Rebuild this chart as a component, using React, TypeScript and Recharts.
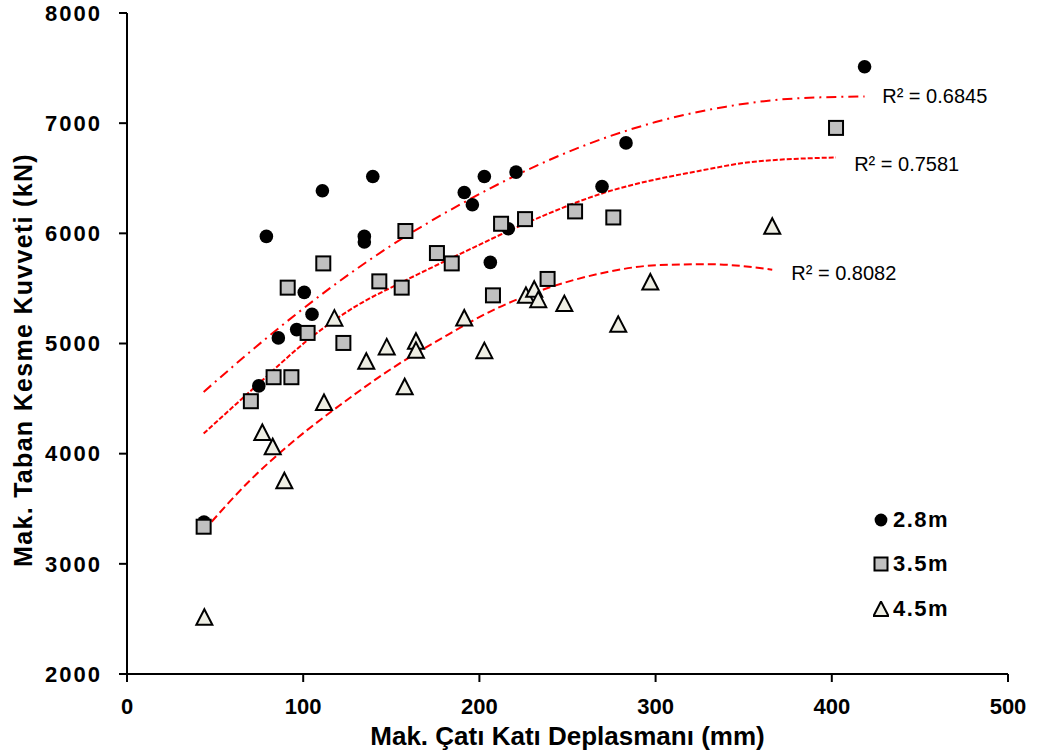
import React from 'react';
import { ComposedChart, Scatter, Line, XAxis, YAxis, ReferenceDot, Label } from 'recharts';

// axis ticks
const xTicks = [0, 100, 200, 300, 400, 500];
const yTicks = [2000, 3000, 4000, 5000, 6000, 7000, 8000];

// kat yuksekligi 2.8m
const h28 = [
  { x: 43.7, y: 3380 }, { x: 74.8, y: 4615 }, { x: 79.1, y: 5972 }, { x: 85.9, y: 5051 },
  { x: 96.3, y: 5126 }, { x: 100.6, y: 5464 }, { x: 105, y: 5265 }, { x: 110.9, y: 6386 },
  { x: 134.7, y: 5972 }, { x: 134.7, y: 5921 }, { x: 139.5, y: 6516 }, { x: 191.4, y: 6371 },
  { x: 196, y: 6259 }, { x: 202.8, y: 6516 }, { x: 206.2, y: 5736 }, { x: 216.4, y: 6042 },
  { x: 220.8, y: 6556 }, { x: 269.6, y: 6425 }, { x: 283.2, y: 6821 }, { x: 418.6, y: 7512 },
];

// 3.5m
const h35 = [
  { x: 43.5, y: 3337 }, { x: 70.3, y: 4476 }, { x: 83.2, y: 4694 }, { x: 93.3, y: 4694 },
  { x: 91.2, y: 5507 }, { x: 102.5, y: 5096 }, { x: 111.4, y: 5727 }, { x: 122.8, y: 5005 },
  { x: 143.2, y: 5564 }, { x: 155.9, y: 5507 }, { x: 158, y: 6021 }, { x: 175.9, y: 5821 },
  { x: 184.3, y: 5727 }, { x: 207.7, y: 5437 }, { x: 212.3, y: 6087 }, { x: 225.9, y: 6129 },
  { x: 238.7, y: 5586 }, { x: 254.3, y: 6199 }, { x: 276, y: 6144 }, { x: 402.4, y: 6957 },
];

// 4.5m
const h45 = [
  { x: 43.9, y: 2515 }, { x: 76.8, y: 4192 }, { x: 82.7, y: 4063 }, { x: 89.3, y: 3754 },
  { x: 111.8, y: 4464 }, { x: 117.7, y: 5230 }, { x: 135.8, y: 4839 }, { x: 147.4, y: 4969 },
  { x: 157.6, y: 4607 }, { x: 164, y: 5020 }, { x: 164, y: 4938 }, { x: 191.4, y: 5232 },
  { x: 202.8, y: 4935 }, { x: 226.4, y: 5437 }, { x: 231.1, y: 5492 }, { x: 233.4, y: 5398 },
  { x: 248.2, y: 5362 }, { x: 278.8, y: 5174 }, { x: 297, y: 5558 }, { x: 366.2, y: 6065 },
];

// 2. derece trend cizgileri
const trend28 = [
  { x: 43.5, y: 4560 }, { x: 80, y: 5060 }, { x: 115, y: 5500 }, { x: 150, y: 5890 },
  { x: 190, y: 6270 }, { x: 220, y: 6520 }, { x: 260, y: 6800 }, { x: 300, y: 7010 },
  { x: 340, y: 7150 }, { x: 380, y: 7225 }, { x: 418.6, y: 7242 },
];
const trend35 = [
  { x: 43.5, y: 4183 }, { x: 72.3, y: 4600 }, { x: 102.5, y: 5030 }, { x: 129, y: 5330 },
  { x: 156.5, y: 5560 }, { x: 190, y: 5820 }, { x: 225.7, y: 6087 }, { x: 269, y: 6359 },
  { x: 325.8, y: 6570 }, { x: 353.2, y: 6645 }, { x: 402.4, y: 6689 },
];
const trend45 = [
  { x: 43.5, y: 3300 }, { x: 70, y: 3760 }, { x: 95, y: 4120 }, { x: 120, y: 4430 },
  { x: 150, y: 4770 }, { x: 180, y: 5060 }, { x: 210, y: 5320 }, { x: 240, y: 5510 },
  { x: 270, y: 5640 }, { x: 300, y: 5710 }, { x: 330, y: 5720 }, { x: 366.2, y: 5670 },
];

const r2Labels = [
  { x: 428.6, y: 7247, text: 'R² = 0.6845' },
  { x: 412.7, y: 6625, text: 'R² = 0.7581' },
  { x: 377, y: 5641, text: 'R² = 0.8082' },
];

const FONT = '"Liberation Sans", Arial, sans-serif';

const CircleMark = (p: any) => <circle cx={p.cx} cy={p.cy} r={6.8} fill="#000" />;
const SquareMark = (p: any) => (
  <rect x={p.cx - 7} y={p.cy - 7} width={14} height={14} fill="#C0C0C0" stroke="#000" strokeWidth={2} />
);
const TriMark = (p: any) => (
  <polygon
    points={`${p.cx},${p.cy - 8} ${p.cx - 8},${p.cy + 7.5} ${p.cx + 8},${p.cy + 7.5}`}
    fill="#EEEEE4"
    stroke="#000"
    strokeWidth={2}
  />
);

const legendItems = [
  { name: '2.8m', top: 520, mark: <circle cx={8} cy={8} r={6.4} fill="#000" /> },
  { name: '3.5m', top: 564, mark: <rect x={1.5} y={1.5} width={13} height={13} fill="#C0C0C0" stroke="#000" strokeWidth={2} /> },
  { name: '4.5m', top: 609, mark: <polygon points="8,0.5 0.5,15 15.5,15" fill="#EEEEE4" stroke="#000" strokeWidth={2} /> },
];

export default function App() {
  return (
    <div style={{ position: 'absolute', left: 0, top: 0, width: 1043, height: 755, background: '#fff', fontFamily: FONT }}>
      <ComposedChart width={1043} height={755} margin={{ top: 13, right: 35, left: 0, bottom: 0 }}>
        <XAxis
          type="number"
          dataKey="x"
          domain={[0, 500]}
          ticks={xTicks}
          height={81}
          stroke="#000"
          strokeWidth={2}
          tickSize={8}
          tickMargin={16}
          tick={{ fontSize: 22, fontWeight: 'bold', fill: '#000', fontFamily: FONT }}
        >
          <Label
            value="Mak. Çatı Katı Deplasmanı (mm)"
            position="insideBottom"
            offset={10}
            style={{ fontSize: 26, fontWeight: 'bold', fill: '#000', fontFamily: FONT }}
          />
        </XAxis>
        <YAxis
          type="number"
          dataKey="y"
          domain={[2000, 8000]}
          ticks={yTicks}
          width={127}
          stroke="#000"
          strokeWidth={2}
          tickSize={8}
          tickMargin={17}
          tick={{ fontSize: 22, fontWeight: 'bold', fill: '#000', fontFamily: FONT, letterSpacing: 2 }}
        >
          <Label
            content={() => (
              <text
                x={23}
                y={360}
                transform="rotate(-90 23 360)"
                textAnchor="middle"
                dominantBaseline="central"
                style={{ fontSize: 25, fontWeight: 'bold', fill: '#000', fontFamily: FONT, letterSpacing: 1.3 }}
              >
                Mak. Taban Kesme Kuvveti (kN)
              </text>
            )}
          />
        </YAxis>

        <Scatter name="2.8m" data={h28} shape={CircleMark} isAnimationActive={false} />
        <Scatter name="3.5m" data={h35} shape={SquareMark} isAnimationActive={false} />
        <Scatter name="4.5m" data={h45} shape={TriMark} isAnimationActive={false} />

        <Line data={trend28} dataKey="y" type="monotone" stroke="#FF0000" strokeWidth={2}
          strokeDasharray="10 5 2 5" dot={false} activeDot={false} isAnimationActive={false} />
        <Line data={trend35} dataKey="y" type="monotone" stroke="#FF0000" strokeWidth={2}
          strokeDasharray="5 2" dot={false} activeDot={false} isAnimationActive={false} />
        <Line data={trend45} dataKey="y" type="monotone" stroke="#FF0000" strokeWidth={2}
          strokeDasharray="8 4" dot={false} activeDot={false} isAnimationActive={false} />

        {r2Labels.map((l) => (
          <ReferenceDot
            key={l.text}
            x={l.x}
            y={l.y}
            r={0}
            ifOverflow="visible"
            shape={(p: any) => (
              <text x={p.cx} y={p.cy} dominantBaseline="central"
                style={{ fontSize: 20, fill: '#000', fontFamily: FONT }}>
                {l.text}
              </text>
            )}
          />
        ))}
      </ComposedChart>

      {legendItems.map((it) => (
        <div key={it.name} style={{ position: 'absolute', left: 873, top: it.top - 12, height: 24, display: 'flex', alignItems: 'center' }}>
          <svg width={16} height={16} style={{ display: 'block' }}>{it.mark}</svg>
          <span style={{ marginLeft: 4, fontSize: 22, fontWeight: 'bold', letterSpacing: 1.5, color: '#000', lineHeight: '24px' }}>
            {it.name}
          </span>
        </div>
      ))}
    </div>
  );
}
